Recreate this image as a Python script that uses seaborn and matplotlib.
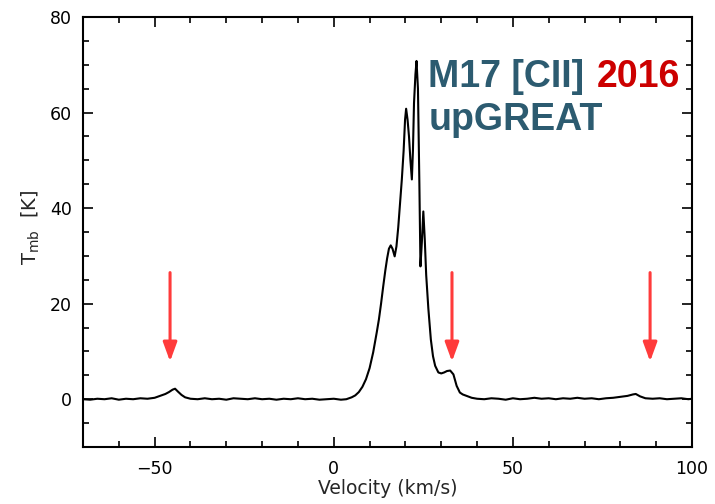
import matplotlib
matplotlib.use("Agg")
import matplotlib.pyplot as plt
import seaborn as sns
import pandas as pd
from matplotlib.ticker import MultipleLocator

# ---- data ----
velocity = [
    -70, -68, -66, -64, -62, -60, -58, -56, -54, -52, -50,
    -48.5, -47, -46, -45, -44.3, -43.5, -42.5, -41.5, -40,
    -38, -36, -34, -32, -30, -28, -26, -24, -22, -20, -18, -16, -14, -12,
    -10, -8, -6, -4, -2, 0, 2, 3.5,
    5, 6, 7, 8, 9, 10, 11, 12, 12.6, 13.2, 13.8, 14.4, 14.9, 15.4, 15.9,
    16.4, 17.0, 17.5, 18.0, 18.5, 19.0, 19.5, 19.9, 20.2, 20.6, 21.0, 21.4,
    21.8, 22.1, 22.4, 22.8, 23.1, 23.5, 23.9, 24.2, 24.6, 25.0, 25.4, 25.8,
    26.4, 27.1, 27.7, 28.3, 29.2, 30.0, 30.8, 31.6, 32.5, 33.4, 34.3, 35.2,
    36.0, 37.1, 38.5, 40, 42, 44, 46, 48, 50, 52, 54, 56, 58, 60, 62, 64,
    66, 68, 70, 72, 74, 76, 78, 80, 82, 83.5, 84.3, 85.5, 87, 89, 91, 93,
    95, 97, 99, 100,
]
tmb = [
    0.0, -0.1, 0.1, 0.0, 0.2, -0.1, 0.1, 0.0, 0.2, 0.1, 0.3,
    0.7, 1.1, 1.5, 2.0, 2.2, 1.6, 0.9, 0.4, 0.1,
    0.0, 0.2, 0.0, 0.1, -0.1, 0.2, 0.1, 0.0, 0.2, 0.0, 0.1, -0.1, 0.1, 0.0,
    0.2, 0.0, 0.1, -0.1, 0.0, 0.1, -0.1, 0.0,
    0.4, 0.8, 1.5, 2.6, 4.2, 6.5, 9.8, 14.0, 16.7, 20.0, 23.6, 27.0, 29.5,
    31.5, 32.2, 31.5, 29.9, 32.0, 36.0, 41.0, 46.0, 52.0, 58.5, 60.8, 58.5,
    55.0, 50.0, 46.0, 52.0, 62.0, 68.0, 70.8, 65.0, 45.0, 27.8, 33.0, 39.3,
    33.5, 26.0, 19.0, 12.5, 9.0, 7.0, 5.6, 5.4, 5.6, 5.9, 6.0, 5.2, 2.8,
    1.4, 1.0, 0.7, 0.3, 0.1, 0.0, 0.2, 0.1, -0.1, 0.2, 0.0, 0.1, 0.3, 0.1,
    0.2, 0.0, 0.2, 0.1, 0.3, 0.1, 0.2, 0.0, 0.2, 0.3, 0.5, 0.7, 1.0, 1.1,
    0.6, 0.2, 0.1, 0.2, 0.0, 0.1, 0.2, 0.0, 0.1,
]
arrow_velocity = [-45.7, 33.0, 88.3]
arrow_tail_tmb = 26.5
arrow_tip_tmb = 7.9

x_ticks = [-50, 0, 50, 100]
y_ticks = [0, 20, 40, 60, 80]
title_main = "M17 [CII]"
title_year = "2016"
title_line2 = "upGREAT"

# ---- styling ----
sns.set_style("ticks")
plt.rcParams["font.family"] = ["DejaVu Sans"]
plt.rcParams["mathtext.fontset"] = "dejavusans"

teal = "#2c5b70"
red_text = "#cc0000"
arrow_red = "#ff3b3b"

fig = plt.figure(figsize=(7.15, 5.04), dpi=100)
ax = fig.add_axes([83 / 715, 57 / 504, 609 / 715, 430 / 504])

df = pd.DataFrame({"Velocity": velocity, "Tmb": tmb})
sns.lineplot(data=df, x="Velocity", y="Tmb", ax=ax, color="black",
             linewidth=1.5, sort=True, estimator=None)

ax.set_xlim(-70, 100)
ax.set_ylim(-10, 80)
ax.set_xticks(x_ticks)
ax.set_yticks(y_ticks)
ax.xaxis.set_minor_locator(MultipleLocator(10))
ax.yaxis.set_minor_locator(MultipleLocator(5))
ax.tick_params(which="both", direction="in", top=True, right=True,
               width=1.2, colors="black", labelsize=12.5)
ax.tick_params(which="major", length=7.5)
ax.tick_params(which="minor", length=4.5)
ax.tick_params(axis="x", pad=9)
ax.tick_params(axis="y", pad=8)
for s in ax.spines.values():
    s.set_linewidth(1.5)
    s.set_visible(True)
    s.set_color("black")

ax.set_xlabel("Velocity (km/s)", fontsize=13.5, labelpad=1)
ax.set_ylabel(r"T$_{\rm mb}$  [K]", fontsize=14)
ax.yaxis.set_label_coords(-0.068, 0.51)

for v in arrow_velocity:
    ax.annotate("", xy=(v, arrow_tip_tmb), xytext=(v, arrow_tail_tmb),
                arrowprops=dict(arrowstyle="-|>,head_length=1.15,head_width=0.42",
                                color=arrow_red, lw=2.2, shrinkA=0, shrinkB=0,
                                mutation_scale=10))

title_font = dict(family=["Liberation Sans", "DejaVu Sans"], size=27,
                  weight="bold")
t1 = ax.text(0.567, 0.838, title_main, transform=ax.transAxes,
             color=teal, va="baseline", ha="left", **title_font)
ax.annotate(title_year, xy=(1, 0), xycoords=t1, xytext=(9, 0),
            textcoords="offset points", color=red_text, va="bottom",
            ha="left", **title_font)
ax.text(0.567, 0.737, title_line2, transform=ax.transAxes,
        color=teal, va="baseline", ha="left", **title_font)

fig.savefig("out.png", dpi=100)
